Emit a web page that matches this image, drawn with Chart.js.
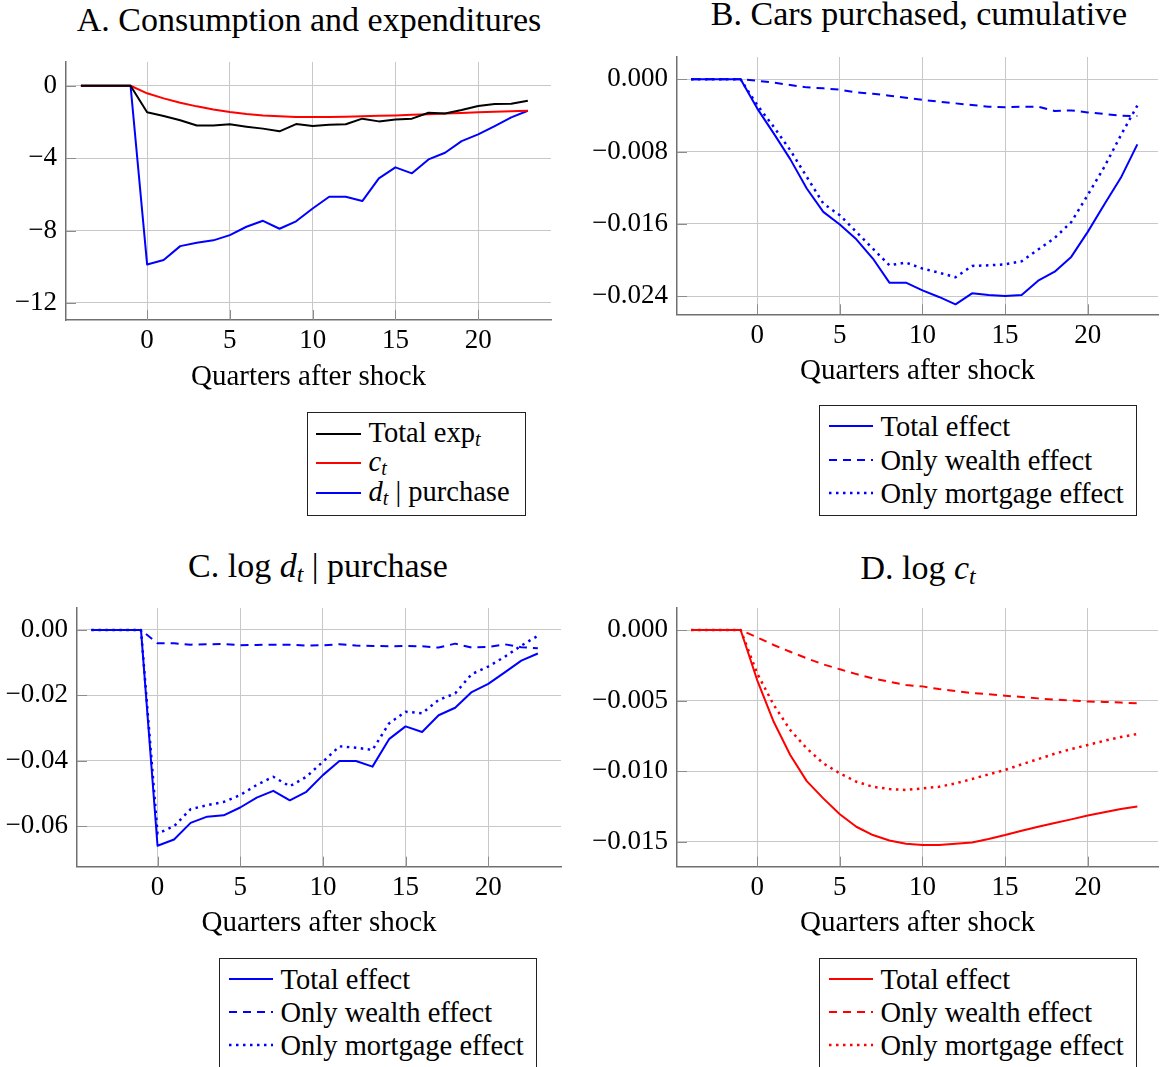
<!DOCTYPE html>
<html><head><meta charset="utf-8">
<script src="https://cdn.jsdelivr.net/npm/chart.js@4.4.1/dist/chart.umd.min.js"></script>
<style>
html,body{margin:0;padding:0;background:#fff;overflow:hidden;}
body{width:1160px;height:1067px;position:relative;font-family:"Liberation Serif",serif;color:#000;}
canvas{position:absolute;}
.title{position:absolute;white-space:nowrap;font-size:34px;line-height:40px;height:40px;transform:translateX(-50%);}
.legend{position:absolute;border:1.5px solid #222;box-sizing:border-box;background:#fff;}
.row{position:absolute;left:0;right:0;white-space:nowrap;font-size:28.5px;line-height:30px;height:30px;}
.row svg{position:absolute;top:0;}
.row span{position:absolute;top:0;}
sub{font-size:0.7em;vertical-align:-0.22em;line-height:0;}
</style>
</head><body>
<script>
// ---------- data ----------
const quarters = [-4,-3,-2,-1,0,1,2,3,4,5,6,7,8,9,10,11,12,13,14,15,16,17,18,19,20,21,22,23];
const xTicks = [0,5,10,15,20];

// Panel A
const aTotalExp = [0,0,0,0,-1.47,-1.67,-1.91,-2.2,-2.2,-2.13,-2.26,-2.37,-2.52,-2.12,-2.23,-2.15,-2.13,-1.82,-1.97,-1.86,-1.82,-1.49,-1.53,-1.34,-1.12,-1.01,-1.0,-0.83];
const aCons = [0,0,0,0,-0.42,-0.70,-0.94,-1.14,-1.31,-1.45,-1.56,-1.64,-1.69,-1.73,-1.73,-1.73,-1.71,-1.69,-1.66,-1.64,-1.61,-1.57,-1.53,-1.50,-1.47,-1.44,-1.41,-1.38];
const aDurable = [0,0,0,0,-9.87,-9.63,-8.86,-8.67,-8.54,-8.25,-7.79,-7.46,-7.9,-7.49,-6.78,-6.13,-6.13,-6.37,-5.12,-4.51,-4.84,-4.07,-3.70,-3.06,-2.69,-2.23,-1.75,-1.38];
const aYTicks = [0,-4,-8,-12];

// Panel B
const bTotal = [0,0,0,0,-0.00321,-0.00598,-0.00883,-0.01208,-0.01467,-0.01607,-0.0177,-0.01983,-0.0225,-0.0225,-0.02335,-0.02408,-0.0249,-0.02368,-0.02387,-0.02397,-0.02387,-0.02228,-0.02128,-0.01965,-0.01688,-0.01385,-0.0109,-0.0072];
const bWealth = [0,0,0,0,-0.00015,-0.00037,-0.00063,-0.00089,-0.001,-0.00115,-0.00144,-0.00159,-0.00181,-0.00203,-0.00226,-0.00248,-0.00266,-0.00285,-0.00303,-0.0031,-0.00303,-0.00303,-0.00351,-0.00344,-0.00366,-0.00384,-0.00403,-0.00407];
const bMortgage = [0,0,0,0,-0.00285,-0.00525,-0.00783,-0.01079,-0.01374,-0.01504,-0.01689,-0.01873,-0.02058,-0.02028,-0.02094,-0.02139,-0.0219,-0.02065,-0.02058,-0.02047,-0.02013,-0.01884,-0.01755,-0.0158,-0.0128,-0.0097,-0.0062,-0.0029];
const bYTicks = [0,-0.008,-0.016,-0.024];

// Panel C
const cTotal = [0,0,0,0,-0.066,-0.0641,-0.059,-0.0571,-0.0567,-0.0543,-0.0513,-0.0492,-0.0521,-0.0495,-0.0444,-0.0401,-0.0401,-0.0418,-0.0334,-0.0295,-0.0312,-0.0261,-0.0238,-0.019,-0.0165,-0.013,-0.0094,-0.0072];
const cWealth = [0,0,0,0,-0.0041,-0.0041,-0.0045,-0.0044,-0.0043,-0.0047,-0.0046,-0.0045,-0.0045,-0.0048,-0.0047,-0.0044,-0.0048,-0.0049,-0.005,-0.0049,-0.005,-0.0054,-0.0042,-0.0054,-0.0052,-0.0044,-0.0053,-0.0056];
const cMortgage = [0,0,0,0,-0.0623,-0.06,-0.0548,-0.0536,-0.0526,-0.0505,-0.0474,-0.0449,-0.0478,-0.0449,-0.0403,-0.0356,-0.036,-0.0367,-0.0286,-0.025,-0.0255,-0.0214,-0.0194,-0.0135,-0.0112,-0.0082,-0.0048,-0.0018];
const cYTicks = [0,-0.02,-0.04,-0.06];

// Panel D
const dTotal = [0,0,0,0,-0.00354,-0.0065,-0.00885,-0.0107,-0.01192,-0.01305,-0.01393,-0.01452,-0.0149,-0.01513,-0.01523,-0.01523,-0.01513,-0.01504,-0.0148,-0.01452,-0.01421,-0.01393,-0.01367,-0.01341,-0.01313,-0.01291,-0.01268,-0.01249];
const dWealth = [0,0,0,0,-0.00052,-0.00106,-0.00154,-0.002,-0.00243,-0.00278,-0.00312,-0.00342,-0.00366,-0.0039,-0.00399,-0.00418,-0.00432,-0.00446,-0.00455,-0.00465,-0.00474,-0.00484,-0.00493,-0.00498,-0.00507,-0.00509,-0.00514,-0.00519];
const dMortgage = [0,0,0,0,-0.00307,-0.0053,-0.00708,-0.00838,-0.00944,-0.01015,-0.01074,-0.0111,-0.01126,-0.01133,-0.01121,-0.0111,-0.01086,-0.01055,-0.01022,-0.00991,-0.00951,-0.00914,-0.00876,-0.00843,-0.00814,-0.00784,-0.00758,-0.00736];
const dYTicks = [0,-0.005,-0.010,-0.015];

const xTitle = 'Quarters after shock';
const titles = ['A. Consumption and expenditures','B. Cars purchased, cumulative',
  'C. log <i>d</i><sub><i>t</i></sub> | purchase','D. log <i>c</i><sub><i>t</i></sub>'];
const legendA = ['Total exp<sub><i>t</i></sub>','<i>c</i><sub><i>t</i></sub>','<i>d</i><sub><i>t</i></sub> | purchase'];
const legendEffects = ['Total effect','Only wealth effect','Only mortgage effect'];

// ---------- style ----------
const FONT = '"Liberation Serif", serif';
const GRID = '#c8c8c8';
const AXIS = '#707070';
const TICKC = '#8c8c8c';
const XH = 74.5;
const SOLID = [], DASHED = [8,6], DOTTED = [2.5,4.5];
const BLUE = '#0000ff', RED = '#ff0000', BLACK = '#000000';

function fmt(v, dec){
  const s = Math.abs(v).toFixed(dec);
  return (v < 0 && parseFloat(s) !== 0 ? '\u2212' : '') + s;
}
function noPad(s){ s.paddingTop = 0; s.paddingBottom = 0; s.paddingLeft = 0; s.paddingRight = 0; }

const inwardTicks = {
  id:'inwardTicks',
  beforeDatasetsDraw(chart){
    const {ctx, chartArea:{left,bottom}, scales:{x,y}} = chart;
    ctx.save(); ctx.strokeStyle = TICKC; ctx.lineWidth = 1;
    x.ticks.forEach(t=>{const p=Math.round(x.getPixelForValue(t.value))+0.5;ctx.beginPath();ctx.moveTo(p,bottom);ctx.lineTo(p,bottom-10);ctx.stroke();});
    y.ticks.forEach(t=>{const p=Math.round(y.getPixelForValue(t.value))+0.5;ctx.beginPath();ctx.moveTo(left,p);ctx.lineTo(left+10,p);ctx.stroke();});
    ctx.restore();
  }
};

function panel(cfg){
  const cv = document.createElement('canvas');
  cv.width = cfg.cw; cv.height = cfg.ch;
  cv.style.left = cfg.cx+'px'; cv.style.top = cfg.cy+'px';
  document.body.appendChild(cv);
  const yW = cfg.plot.l - cfg.cx;
  const padTop = cfg.plot.t - cfg.cy;
  const padRight = cfg.cx + cfg.cw - cfg.plot.r;
  const padBottom = cfg.cy + cfg.ch - cfg.plot.b - XH;
  new Chart(cv, {
    type:'line',
    data:{datasets: cfg.series.map(s=>({
      label:s.label,
      data: quarters.map((q,i)=>({x:q,y:s.values[i]})),
      borderColor:s.color, backgroundColor:s.color, borderWidth:(s.dash===DOTTED?2.5:2), borderDash:s.dash,
      pointRadius:0, fill:false, tension:0, borderCapStyle:'butt', borderJoinStyle:'round'
    }))},
    options:{
      responsive:false, animation:false, devicePixelRatio:1,
      layout:{padding:{left:0,top:padTop,right:padRight,bottom:padBottom}},
      plugins:{legend:{display:false}, tooltip:{enabled:false}, title:{display:false}},
      scales:{
        x:{type:'linear', min:cfg.xr[0], max:cfg.xr[1],
          afterBuildTicks:s=>{s.ticks = xTicks.map(v=>({value:v}));},
          afterFit:s=>{s.height = XH; noPad(s);},
          grid:{color:GRID, lineWidth:1, drawTicks:false},
          border:{color:AXIS, width:1.5},
          ticks:{padding:5, color:'#000', font:{family:FONT,size:27}, maxRotation:0, autoSkip:false, callback:v=>fmt(v,0)},
          title:{display:true, text:xTitle, color:'#000', font:{family:FONT,size:29,lineHeight:1.2}, padding:{top:0,bottom:0}}
        },
        y:{type:'linear', min:cfg.yr[0], max:cfg.yr[1],
          afterBuildTicks:s=>{s.ticks = cfg.yTicks.map(v=>({value:v}));},
          afterFit:s=>{s.width = yW; noPad(s);},
          grid:{color:GRID, lineWidth:1, drawTicks:false},
          border:{color:AXIS, width:1.5},
          ticks:{padding:9, color:'#000', font:{family:FONT,size:27}, autoSkip:false, callback:v=>fmt(v,cfg.dec)}
        }
      }
    },
    plugins:[inwardTicks]
  });
}

panel({cx:0, cy:40, cw:570, ch:380, plot:{l:66,t:62,r:551,b:320}, xr:[-4.9,24.4], yr:[-12.94,1.31], yTicks:aYTicks, dec:0,
  series:[{label:'Total exp',values:aTotalExp,color:BLACK,dash:SOLID},{label:'c',values:aCons,color:RED,dash:SOLID},{label:'d',values:aDurable,color:BLUE,dash:SOLID}]});
panel({cx:580, cy:40, cw:580, ch:380, plot:{l:677,t:57,r:1158,b:314.3}, xr:[-4.85,24.25], yr:[-0.026,0.00247], yTicks:bYTicks, dec:3,
  series:[{label:legendEffects[0],values:bTotal,color:BLUE,dash:SOLID},{label:legendEffects[1],values:bWealth,color:BLUE,dash:DASHED},{label:legendEffects[2],values:bMortgage,color:BLUE,dash:DOTTED}]});
panel({cx:0, cy:590, cw:570, ch:380, plot:{l:77,t:608,r:561,b:866.7}, xr:[-4.87,24.4], yr:[-0.0724,0.0067], yTicks:cYTicks, dec:2,
  series:[{label:legendEffects[0],values:cTotal,color:BLUE,dash:SOLID},{label:legendEffects[1],values:cWealth,color:BLUE,dash:DASHED},{label:legendEffects[2],values:cMortgage,color:BLUE,dash:DOTTED}]});
panel({cx:580, cy:590, cw:580, ch:380, plot:{l:677,t:608,r:1158,b:866.7}, xr:[-4.85,24.25], yr:[-0.01676,0.00156], yTicks:dYTicks, dec:3,
  series:[{label:legendEffects[0],values:dTotal,color:RED,dash:SOLID},{label:legendEffects[1],values:dWealth,color:RED,dash:DASHED},{label:legendEffects[2],values:dMortgage,color:RED,dash:DOTTED}]});

// ---------- titles ----------
const titlePos = [[309,31.3],[919,25.5],[318,577],[918,579]];
titles.forEach((t,i)=>{
  const d = document.createElement('div');
  d.className='title'; d.innerHTML=t;
  d.style.left = titlePos[i][0]+'px';
  d.style.top = (titlePos[i][1] - (20 + 0.3375*34))+'px';
  document.body.appendChild(d);
});

// ---------- legends ----------
function legend(box, labels, colors, dashes, sampleYs, textShift){
  const B = 1.5;
  const d = document.createElement('div');
  d.className='legend';
  Object.assign(d.style,{left:box.l+'px',top:box.t+'px',width:(box.r-box.l)+'px',height:(box.b-box.t)+'px'});
  labels.forEach((lab,i)=>{
    const base = sampleYs[i] + 7.5;
    const row = document.createElement('div');
    row.className='row';
    const rowTop = base - (15 + 0.3375*28.5) - box.t - B;
    row.style.top = rowTop+'px';
    const sy = sampleYs[i] - box.t - B - rowTop;
    const da = dashes[i].length ? `stroke-dasharray="${dashes[i].join(' ')}"` : '';
    const sw = dashes[i] === DOTTED ? 2.5 : 2;
    row.innerHTML = `<svg width="46" height="30" style="left:${box.sx0 - box.l - B}px"><line x1="0" y1="${sy}" x2="${box.sx1-box.sx0}" y2="${sy}" stroke="${colors[i]}" stroke-width="${sw}" ${da}/></svg><span style="left:${box.tx - box.l - B}px;top:${textShift}px">${lab}</span>`;
    d.appendChild(row);
  });
  document.body.appendChild(d);
}
legend({l:307,t:412,r:526,b:516,sx0:316,sx1:361,tx:369}, legendA, [BLACK,RED,BLUE], [SOLID,SOLID,SOLID], [434.3,463.3,493.3], 1);
legend({l:819,t:405,r:1137,b:516,sx0:829,sx1:873,tx:881}, legendEffects, [BLUE,BLUE,BLUE], [SOLID,DASHED,DOTTED], [427,461,494], 3);
legend({l:219,t:958,r:537,b:1069,sx0:229,sx1:273,tx:281}, legendEffects, [BLUE,BLUE,BLUE], [SOLID,DASHED,DOTTED], [980,1013,1046], 3);
legend({l:819,t:958,r:1137,b:1069,sx0:829,sx1:873,tx:881}, legendEffects, [RED,RED,RED], [SOLID,DASHED,DOTTED], [980,1013,1046], 3);
</script>
</body></html>
